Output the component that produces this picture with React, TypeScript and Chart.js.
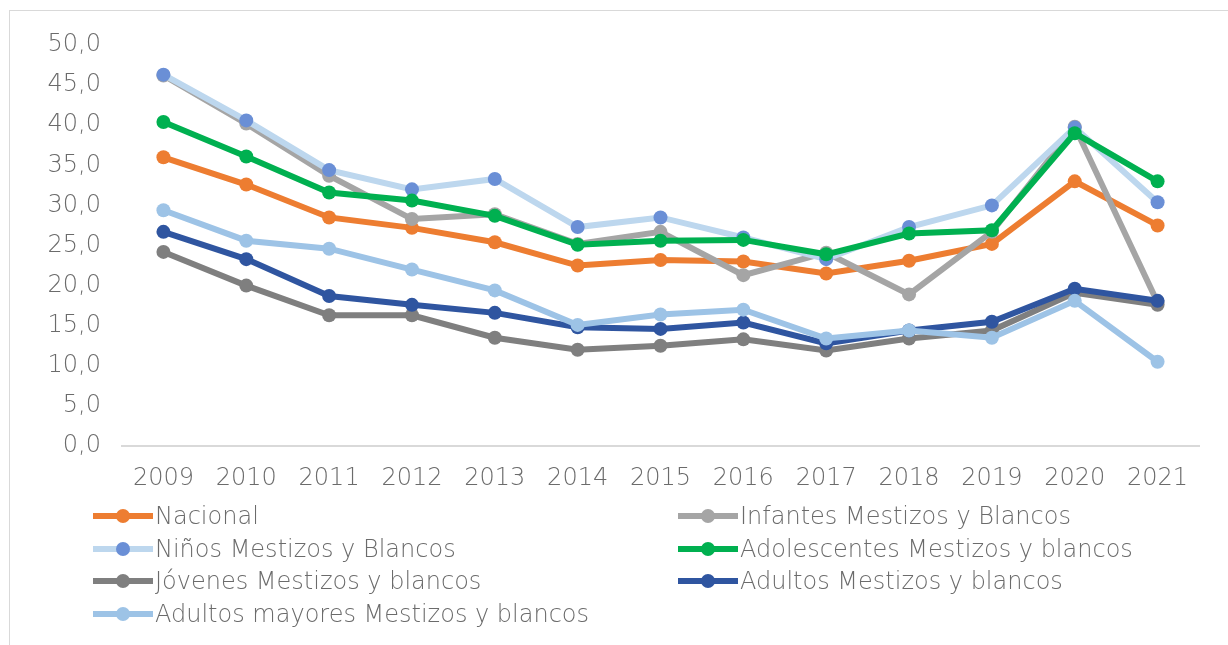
import React, { useEffect, useRef } from "react";
import { Chart, registerables } from "chart.js";

Chart.register(...registerables);

const years = ["2009", "2010", "2011", "2012", "2013", "2014", "2015", "2016", "2017", "2018", "2019", "2020", "2021"];

const nacional = [36.0, 32.6, 28.5, 27.2, 25.4, 22.5, 23.2, 23.0, 21.5, 23.1, 25.2, 33.0, 27.5];
const infantes = [46.2, 40.2, 33.7, 28.3, 28.9, 25.2, 26.7, 21.3, 24.1, 18.9, 26.7, 39.8, 17.9];
const ninos = [46.3, 40.6, 34.4, 32.0, 33.3, 27.3, 28.5, 26.0, 23.3, 27.3, 30.0, 39.7, 30.4];
const adolescentes = [40.4, 36.1, 31.6, 30.6, 28.7, 25.1, 25.6, 25.7, 23.9, 26.5, 26.9, 39.0, 33.0];
const jovenes = [24.2, 20.0, 16.3, 16.3, 13.5, 12.0, 12.5, 13.3, 11.9, 13.4, 14.4, 19.1, 17.6];
const adultos = [26.7, 23.3, 18.7, 17.6, 16.6, 14.8, 14.6, 15.4, 12.8, 14.4, 15.5, 19.6, 18.1];
const adultosMayores = [29.4, 25.6, 24.6, 22.0, 19.4, 15.1, 16.4, 17.0, 13.4, 14.4, 13.5, 18.1, 10.5];

const seriesLabels = [
  "Nacional",
  "Infantes Mestizos y Blancos",
  "Niños Mestizos y Blancos",
  "Adolescentes Mestizos y blancos",
  "Jóvenes Mestizos y blancos",
  "Adultos Mestizos y blancos",
  "Adultos mayores Mestizos y blancos",
];
const seriesData = [nacional, infantes, ninos, adolescentes, jovenes, adultos, adultosMayores];
const lineColors = ["#ED7D31", "#A5A5A5", "#BDD7EE", "#00B050", "#7F7F7F", "#2F55A0", "#9DC3E6"];
const markerColors = ["#ED7D31", "#A5A5A5", "#6A8FD6", "#00B050", "#7F7F7F", "#2F55A0", "#9DC3E6"];

const FONT = "'DejaVu Sans', sans-serif";
const TEXT = "#6b6b6b";

export default function App() {
  const ref = useRef<HTMLCanvasElement | null>(null);

  useEffect(() => {
    if (!ref.current) return;
    const chart = new Chart(ref.current, {
      type: "line",
      data: {
        labels: years,
        datasets: seriesData.map((d, i) => ({
          label: seriesLabels[i],
          data: d,
          borderColor: lineColors[i],
          backgroundColor: markerColors[i],
          pointBackgroundColor: markerColors[i],
          pointBorderColor: markerColors[i],
          borderWidth: 6,
          pointRadius: 7,
          pointBorderWidth: 0,
          tension: 0,
          order: seriesData.length - i,
        })),
      },
      options: {
        responsive: false,
        animation: false,
        layout: { padding: { top: 45, right: 29, left: 0, bottom: 0 } },
        plugins: { legend: { display: false }, tooltip: { enabled: false } },
        scales: {
          x: {
            offset: true,
            grid: { display: false, drawTicks: false },
            border: { display: true, color: "#d9d9d9", width: 2 },
            ticks: { color: TEXT, font: { family: FONT, size: 24, weight: "300" }, padding: 18, maxRotation: 0 },
            afterFit: (s: any) => { s.height = 645 - 446; },
          },
          y: {
            min: 0,
            max: 50,
            grid: { display: false, drawTicks: false },
            border: { display: false },
            ticks: {
              stepSize: 5,
              color: TEXT,
              padding: 21,
              font: { family: FONT, size: 24, weight: "300" },
              callback: (v: any) => Number(v).toFixed(1).replace(".", ","),
            },
            afterFit: (s: any) => { s.width = 122; },
          },
        },
      },
    });
    return () => chart.destroy();
  }, []);

  const legendRows = [
    [0, 1],
    [2, 3],
    [4, 5],
    [6],
  ];

  return (
    <div style={{ position: "fixed", left: 0, top: 0, width: 1228, height: 645, overflow: "hidden", background: "#fff" }}>
      <div style={{ position: "absolute", left: 9, top: 10, width: 1400, height: 800, border: "1px solid #d9d9d9" }} />
      <canvas ref={ref} width={1228} height={645} style={{ position: "absolute", left: 0, top: 0 }} />
      {legendRows.map((row, r) =>
        row.map((idx, c) => (
          <div
            key={idx}
            style={{
              position: "absolute",
              left: c === 0 ? 93 : 678,
              top: 516 + r * 32.7 - 16,
              height: 32,
              display: "flex",
              alignItems: "center",
              fontFamily: FONT,
              fontWeight: 300,
              fontSize: 24,
              color: TEXT,
              whiteSpace: "nowrap",
            }}
          >
            <svg width={60} height={20} style={{ marginRight: 2 }}>
              <line x1={0} y1={10} x2={60} y2={10} stroke={lineColors[idx]} strokeWidth={6} />
              <circle cx={30} cy={10} r={7} fill={markerColors[idx]} />
            </svg>
            <span>{seriesLabels[idx]}</span>
          </div>
        ))
      )}
    </div>
  );
}
